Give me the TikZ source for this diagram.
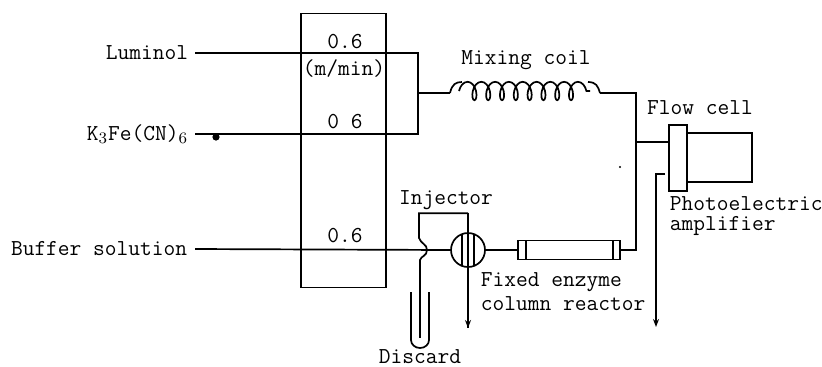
\documentclass[tikz,border=0pt]{standalone}
\usetikzlibrary{arrows.meta, calc, decorations.pathmorphing}
\tikzset{
  every picture/.style={font=\fontsize{11.4}{12}\selectfont\ttfamily, line width=0.85pt, x=0.5pt, y=-0.5pt},
  unit/.style={draw, inner sep=0pt, minimum width=#1},
  unit/.default=10pt,
  label/.style={inner sep=0pt, align=left},
  arrow/.style={-{Stealth[length=4pt, width=3pt]}},
  coilwire/.style={decorate, decoration={coil, aspect=0.55, segment length=6.9pt, amplitude=4.6pt}},
}
\begin{document}
\begin{tikzpicture}
  \useasboundingbox (0,0) rectangle (822,366);
  % pump and flow cell
  \node[unit=42.5pt, minimum height=137pt] (pump) at (343.5,150.5) {};
  \node[unit=9pt, minimum height=33pt, fill=white] (cell) at (678,158) {};
  \node[unit=32.5pt, minimum height=24.5pt] (pmt) at (719.5,157.5) {};
  \node[unit=51pt, minimum height=9.5pt] (column) at (569,250) {};
  \node[draw, circle, inner sep=0pt, minimum size=17pt] (inj) at (468,250) {};
  % labels
  \node[label, anchor=east] (luminol) at (189,53) {Luminol};
  \node[label, anchor=east] (ferri) at (189,134) {K$_3$Fe(CN)$_6$};
  \node[label, anchor=east] (buffer) at (188,249) {Buffer solution};
  \node[label] (rate1) at (345,42) {0.6};
  \node[label] (units) at (344,69) {(m/min)};
  \node[label] (rate2) at (345,122) {0 6};
  \node[label] (rate3) at (345,236) {0.6};
  \node[label] (mixlabel) at (526,60) {Mixing coil};
  \node[label] (celllabel) at (700,108) {Flow cell};
  \node[label] (injlabel) at (446,200) {Injector};
  \node[label, anchor=north west] (amplabel) at (669,196) {Photoelectric\\[-2pt]amplifier};
  \node[label, anchor=north west] (reactlabel) at (480,272) {Fixed enzyme\\column reactor};
  \node[label] (discard) at (420,357) {Discard};
  % junctions
  \coordinate (lumout) at (195,53);
  \coordinate (ferout) at (195,134);
  \coordinate (merge) at (418,93);
  \coordinate (coilin) at (450,93);
  \coordinate (coilout) at (600,93);
  \coordinate (rise) at (636,93);
  \coordinate (tee) at (636,142);
  \coordinate (drain) at (468,328);
  \coordinate (loopleft) at (419,215);
  \coordinate (waste) at (419,337);
  \coordinate (outlet) at (665,174);
  \coordinate (outend) at (656,327);
  % feed lines
  \draw (lumout) -| (merge) |- (ferout);
  \fill (216,137) circle (1.8pt);
  \draw (merge) -- (coilin);
  \draw (coilin) .. controls (452,84) and (456,82) .. (462,82);
  \draw[coilwire] (459,91) -- (590,91);
  \draw (588,82) .. controls (596,82) and (598,86) .. (coilout);
  \draw (coilout) -- (rise) |- (column.east);
  \draw (tee) -- (tee -| cell.west);
  \draw (buffer.east) ++(7,0) -- (inj.west);
  \draw (inj.east) -- (column.west);
  % injector loop and discard
  \draw (inj.north) ++(0,-19) -- (drain);
  \draw[arrow] (drain) ++(0,-8) -- (drain);
  \draw (inj.north) ++(0,-19) -| (loopleft) -- (419,238) .. controls (421,244) and (427,244) .. (427,250)
    .. controls (427,256) and (421,256) .. (420,260) |- (waste);
  \draw ($(inj)+(-6,-15)$) -- ($(inj)+(-6,15)$);
  \draw ($(inj)+(6,-15)$) -- ($(inj)+(6,15)$);
  \draw (411,292) -- (411,340) arc[start angle=180, end angle=0, x radius=9, y radius=8] -- (429,292);
  % column end caps
  \draw (526,240) -- (526,260);
  \draw (613,240) -- (613,260);
  % outlet
  \draw[arrow] (outlet) -| (outend);
  \fill (620,167) circle (0.6pt);
\end{tikzpicture}
\end{document}
